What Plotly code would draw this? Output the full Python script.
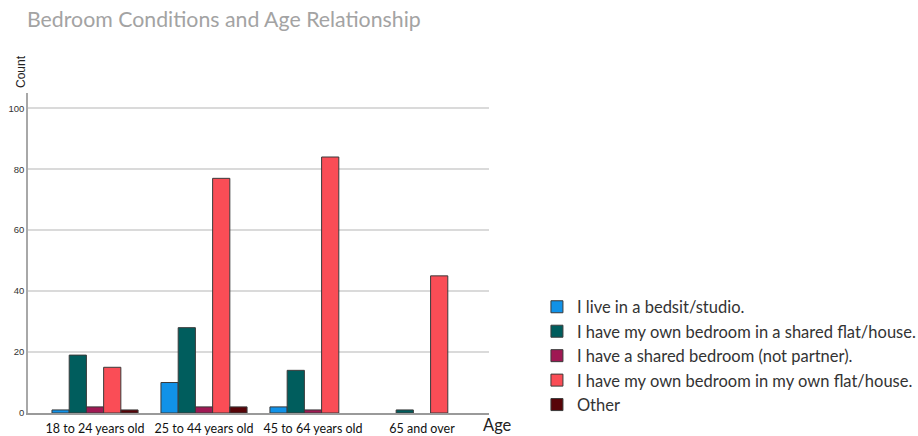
import plotly.graph_objects as go

categories = ["18 to 24 years old", "25 to 44 years old", "45 to 64 years old", "65 and over"]
series_names = [
    "I live in a bedsit/studio.",
    "I have my own bedroom in a shared flat/house.",
    "I have a shared bedroom (not partner).",
    "I have my own bedroom in my own flat/house.",
    "Other",
]
bedsit = [1, 10, 2, 0]
shared_flat = [19, 28, 14, 1]
shared_bedroom = [2, 2, 1, 0]
own_flat = [15, 77, 84, 45]
other = [1, 2, 0, 0]
series_values = [bedsit, shared_flat, shared_bedroom, own_flat, other]
colors = ["#1192e8", "#005d5d", "#9f1853", "#fa4d56", "#570408"]
y_ticks = [0, 20, 40, 60, 80, 100]

fig = go.Figure()
for i, (name, vals, col) in enumerate(zip(series_names, series_values, colors)):
    fig.add_trace(go.Bar(
        x=categories, y=vals, name=name, legendgroup=f"g{i}",
        marker=dict(color=col,
                    line=dict(color="#3a3a3a", width=[1 if v > 0 else 0 for v in vals])),
    ))

fig.update_layout(
    width=918, height=436,
    margin=dict(l=28, r=429, t=93, b=23, autoexpand=False),
    paper_bgcolor="white", plot_bgcolor="white",
    barmode="group", bargap=0.21, bargroupgap=0.0,
    title=dict(text="Bedroom Conditions and Age Relationship", x=0, xref="paper",
               xanchor="left", y=0.955, yanchor="middle",
               font=dict(family="Lato", size=21.3, color="#a3a3a3"), pad=dict(l=-1)),
    font=dict(family="Lato", color="#222"),
    showlegend=True,
    legend=dict(x=1.104, xanchor="left", y=0.178, yanchor="middle",
                font=dict(family="Lato", size=16.5, color="#333"),
                tracegroupgap=0, bgcolor="rgba(0,0,0,0)"),
    xaxis=dict(type="category", range=[-0.615, 3.615], showgrid=False,
               showline=True, linecolor="#9a9a9a", linewidth=1.5, automargin=False,
               tickfont=dict(family="Lato", size=12.5, color="#111"), ticks="",
               ticklabelstandoff=3),
    yaxis=dict(range=[0, 105], tickvals=y_ticks, showgrid=True, gridcolor="#dadada",
               gridwidth=1.5, showline=True, linecolor="#a8a8a8", linewidth=1.5,
               zeroline=False, ticks="", automargin=False,
               tickfont=dict(family="Liberation Sans", size=9.5, color="#333")),
    annotations=[
        dict(text="Count", xref="paper", yref="paper", x=-0.015, y=1.066,
             showarrow=False, textangle=-90,
             font=dict(family="Liberation Sans", size=12, color="#222"),
             xanchor="center", yanchor="middle"),
        dict(text="Age", xref="paper", yref="paper", x=1.0, y=-0.038,
             xanchor="left", yanchor="middle", showarrow=False, xshift=-8,
             font=dict(family="Lato", size=16.5, color="#222")),
    ],
)

fig.write_html(
    "out.html",
    config={"displayModeBar": False},
    post_script="document.body.style.margin='0';document.body.style.overflow='hidden';",
)
